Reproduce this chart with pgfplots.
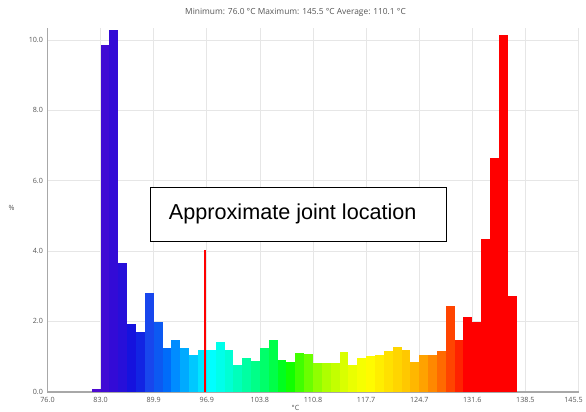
\documentclass[border=0pt]{standalone}
\usepackage[rgb]{xcolor}
\usepackage{fontspec}
\setmainfont{Liberation Sans}
\newfontfamily\smallsans{Open Sans}
\usepackage{pgfplots}
\pgfplotsset{compat=1.18}

\definecolor{axisgray}{HTML}{A8A8A8}
\definecolor{gridgray}{HTML}{E6E6E6}
\definecolor{labelgray}{HTML}{555555}

% bin colours, violet -> blue -> cyan -> green -> yellow -> red
\definecolor{h0}{Hsb}{260,0.95,0.82}
\definecolor{h1}{Hsb}{256,0.95,0.83}
\definecolor{h2}{Hsb}{252,0.95,0.84}
\definecolor{h3}{Hsb}{247,0.93,0.85}
\definecolor{h4}{Hsb}{241,0.92,0.87}
\definecolor{h5}{Hsb}{235,0.92,0.89}
\definecolor{h6}{Hsb}{227,0.9,0.93}
\definecolor{h7}{Hsb}{220,0.95,0.95}
\definecolor{h8}{Hsb}{214,1,0.98}
\definecolor{h9}{Hsb}{207,1,1}
\definecolor{h10}{Hsb}{200,1,1}
\definecolor{h11}{Hsb}{193,1,1}
\definecolor{h12}{Hsb}{186,1,1}
\definecolor{h13}{Hsb}{180,1,1}
\definecolor{h14}{Hsb}{175,1,1}
\definecolor{h15}{Hsb}{170,1,1}
\definecolor{h16}{Hsb}{164,1,1}
\definecolor{h17}{Hsb}{158,1,1}
\definecolor{h18}{Hsb}{152,1,1}
\definecolor{h19}{Hsb}{145,1,1}
\definecolor{h20}{Hsb}{137,1,1}
\definecolor{h21}{Hsb}{127,1,1}
\definecolor{h22}{Hsb}{116,1,1}
\definecolor{h23}{Hsb}{105,1,1}
\definecolor{h24}{Hsb}{95,1,1}
\definecolor{h25}{Hsb}{86,1,1}
\definecolor{h26}{Hsb}{79,1,1}
\definecolor{h27}{Hsb}{74,1,1}
\definecolor{h28}{Hsb}{69,1,1}
\definecolor{h29}{Hsb}{65,1,1}
\definecolor{h30}{Hsb}{62,1,1}
\definecolor{h31}{Hsb}{59,1,1}
\definecolor{h32}{Hsb}{56,1,1}
\definecolor{h33}{Hsb}{53,1,1}
\definecolor{h34}{Hsb}{50,1,1}
\definecolor{h35}{Hsb}{47,1,1}
\definecolor{h36}{Hsb}{43,1,1}
\definecolor{h37}{Hsb}{38,1,1}
\definecolor{h38}{Hsb}{32,1,1}
\definecolor{h39}{Hsb}{25,1,1}
\definecolor{h40}{Hsb}{16,1,1}
\definecolor{h41}{Hsb}{8,1,1}
\definecolor{h42}{Hsb}{0,1,1}

\pgfplotsset{
  bin/.style={ybar, bar width=1.158333, bar shift=0pt, draw=none, fill=#1},
}

\begin{document}
\begin{tikzpicture}
\begin{axis}[
  name=ax,
  scale only axis,
  width=531bp, height=364bp,
  xmin=76, xmax=145.5,
  ymin=0, ymax=10.35,
  axis x line*=bottom, axis y line*=left,
  axis line style={axisgray, line width=1.6bp},
  xtick={76,82.95,89.9,96.85,103.8,110.75,117.7,124.65,131.6,138.55,145.5},
  xticklabels={76.0,83.0,89.9,96.9,103.8,110.8,117.7,124.7,131.6,138.5,\hspace*{-10bp}145.5},
  ytick={0,2,4,6,8,10},
  yticklabels={0.0,2.0,4.0,6.0,8.0,10.0},
  major tick length=0pt,
  grid=major,
  major grid style={gridgray, line width=0.7bp},
  tick label style={font=\smallsans\fontsize{7.2}{8}\selectfont, text=labelgray},
  /pgf/number format/assume math mode=true,
  xticklabel style={yshift=-2bp},
  yticklabel style={xshift=-1bp},
  clip=false,
]
% histogram bins, width 69.5/60 degC, values in percent
\addplot[bin=h0]  coordinates {(82.371,0.07)};
\addplot[bin=h1]  coordinates {(83.529,9.86)};
\addplot[bin=h2]  coordinates {(84.688,10.28)};
\addplot[bin=h3]  coordinates {(85.846,3.65)};
\addplot[bin=h4]  coordinates {(87.004,1.93)};
\addplot[bin=h5]  coordinates {(88.163,1.70)};
\addplot[bin=h6]  coordinates {(89.321,2.80)};
\addplot[bin=h7]  coordinates {(90.479,1.99)};
\addplot[bin=h8]  coordinates {(91.638,1.24)};
\addplot[bin=h9]  coordinates {(92.796,1.47)};
\addplot[bin=h10] coordinates {(93.954,1.24)};
\addplot[bin=h11] coordinates {(95.113,1.05)};
\addplot[bin=h12] coordinates {(96.271,1.18)};
\addplot[bin=h13] coordinates {(97.429,1.18)};
\addplot[bin=h14] coordinates {(98.588,1.40)};
\addplot[bin=h15] coordinates {(99.746,1.18)};
\addplot[bin=h16] coordinates {(100.904,0.77)};
\addplot[bin=h17] coordinates {(102.063,0.95)};
\addplot[bin=h18] coordinates {(103.221,0.88)};
\addplot[bin=h19] coordinates {(104.379,1.25)};
\addplot[bin=h20] coordinates {(105.538,1.46)};
\addplot[bin=h21] coordinates {(106.696,0.90)};
\addplot[bin=h22] coordinates {(107.854,0.85)};
\addplot[bin=h23] coordinates {(109.013,1.11)};
\addplot[bin=h24] coordinates {(110.171,1.07)};
\addplot[bin=h25] coordinates {(111.329,0.83)};
\addplot[bin=h26] coordinates {(112.488,0.82)};
\addplot[bin=h27] coordinates {(113.646,0.82)};
\addplot[bin=h28] coordinates {(114.804,1.12)};
\addplot[bin=h29] coordinates {(115.963,0.77)};
\addplot[bin=h30] coordinates {(117.121,0.95)};
\addplot[bin=h31] coordinates {(118.279,1.02)};
\addplot[bin=h32] coordinates {(119.438,1.03)};
\addplot[bin=h33] coordinates {(120.596,1.16)};
\addplot[bin=h34] coordinates {(121.754,1.26)};
\addplot[bin=h35] coordinates {(122.913,1.18)};
\addplot[bin=h36] coordinates {(124.071,0.84)};
\addplot[bin=h37] coordinates {(125.229,1.03)};
\addplot[bin=h38] coordinates {(126.388,1.04)};
\addplot[bin=h39] coordinates {(127.546,1.17)};
\addplot[bin=h40] coordinates {(128.704,2.44)};
\addplot[bin=h41] coordinates {(129.863,1.47)};
\addplot[bin=h42] coordinates {(131.021,2.13)};
\addplot[bin=h42] coordinates {(132.179,1.99)};
\addplot[bin=h42] coordinates {(133.338,4.33)};
\addplot[bin=h42] coordinates {(134.496,6.64)};
\addplot[bin=h42] coordinates {(135.654,10.14)};
\addplot[bin=h42] coordinates {(136.813,2.72)};

% joint marker
\addplot[red, line width=1.6bp] coordinates {(96.62,0) (96.62,4.03)};

\draw[black, line width=0.8bp, fill=white]
  (axis cs:89.42,4.285) rectangle (axis cs:128.16,5.82);
\node[font=\fontsize{21.7}{24}\selectfont, text=black]
  at (axis cs:108.1,5.05) {Approximate joint location};
\end{axis}

\node[font=\smallsans\fontsize{8.4}{9}\selectfont, text=labelgray]
  at ([shift={(248bp,379.4bp)}]ax.south west)
  {Minimum: 76.0 °C Maximum: 145.5 °C Average: 110.1 °C};
\node[font=\smallsans\fontsize{7.2}{8}\selectfont, text=labelgray]
  at ([shift={(-35.8bp,183.7bp)}]ax.south west) {\%};
\node[font=\smallsans\fontsize{7.2}{8}\selectfont, text=labelgray]
  at ([shift={(248bp,-16bp)}]ax.south west) {°C};

\pgfresetboundingbox
\path[use as bounding box]
  ([shift={(-47.5bp,-20.3bp)}]ax.south west) rectangle ++(586bp,412bp);
\end{tikzpicture}
\end{document}
